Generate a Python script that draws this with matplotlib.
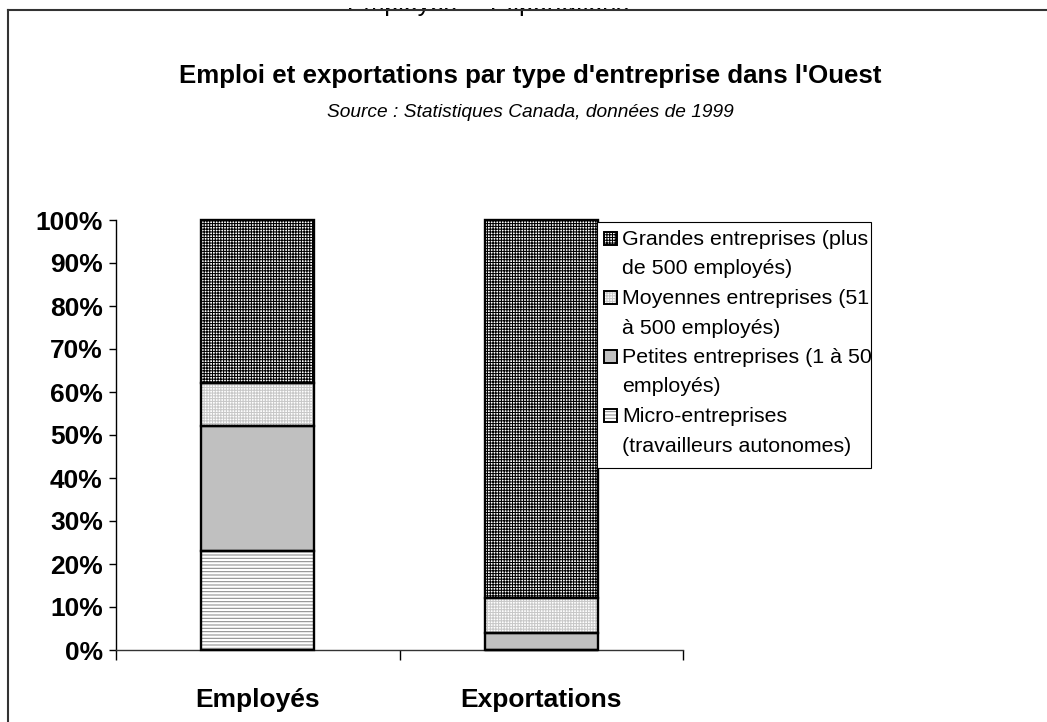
import numpy as np
import matplotlib
matplotlib.use("Agg")
import matplotlib.pyplot as plt
from matplotlib.patches import Rectangle
from matplotlib.lines import Line2D

# ---- data ----
categories = ["Employés", "Exportations"]
series_names = [
    "Micro-entreprises\n(travailleurs autonomes)",
    "Petites entreprises (1 à 50\nemployés)",
    "Moyennes entreprises (51\nà 500 employés)",
    "Grandes entreprises (plus\nde 500 employés)",
]
micro = [23, 0]
petites = [29, 4]
moyennes = [10, 8]
grandes = [38, 88]
series_values = [micro, petites, moyennes, grandes]
ytick_values = [0, 10, 20, 30, 40, 50, 60, 70, 80, 90, 100]
ytick_labels = ["0%", "10%", "20%", "30%", "40%", "50%", "60%", "70%", "80%", "90%", "100%"]
title = "Emploi et exportations par type d'entreprise dans l'Ouest"
subtitle = "Source : Statistiques Canada, données de 1999"

# styles: (face, hatch, hatch colour)
styles = [
    ("white", "-----", "#8a8a8a"),
    ("#c0c0c0", None, "#c0c0c0"),
    ("white", "++++++", "#c8c8c8"),
    ("white", "++++++", "#000000"),
]

FONT = ["Liberation Sans", "DejaVu Sans"]
plt.rcParams["font.family"] = FONT
plt.rcParams["hatch.linewidth"] = 0.75

W, H = 1047, 722
fig = plt.figure(figsize=(W / 100, H / 100), dpi=100)

def fx(px):
    return px / W

def fy(py):
    return 1 - py / H

ax = fig.add_axes([fx(116), fy(650), fx(683) - fx(116), fy(220) - fy(650)])

x = np.arange(len(categories))
bw = 0.40
bottom = np.zeros(len(categories))
for vals, (face, hatch, hc) in zip(series_values, styles):
    vals = np.array(vals, dtype=float)
    ax.bar(x, vals, bw, bottom=bottom, color=face, edgecolor=hc, hatch=hatch,
           linewidth=0, zorder=2)
    ax.bar(x, vals, bw, bottom=bottom, fill=False, edgecolor="black",
           linewidth=1.7, zorder=3, clip_on=False)
    bottom += vals

ax.set_xlim(-0.5, 1.5)
ax.set_ylim(0, 100)
for s in ["top", "right"]:
    ax.spines[s].set_visible(False)
ax.spines["left"].set_linewidth(1.0)
ax.spines["bottom"].set_linewidth(1.0)
ax.spines["bottom"].set_color("#333333")

ax.set_yticks(ytick_values)
ax.set_yticklabels(ytick_labels, fontsize=19, fontweight="bold")
ax.tick_params(axis="y", direction="out", length=5, width=1, pad=4.5)

ax.set_xticks([-0.5, 0.5, 1.5])
ax.set_xticklabels(["", "", ""])
ax.tick_params(axis="x", which="major", direction="out", length=7.5, width=1)
ax.set_xticks(x, minor=True)
ax.set_xticklabels(categories, minor=True, fontsize=19, fontweight="bold")
ax.tick_params(axis="x", which="minor", length=0, pad=27)

# title / subtitle
fig.text(fx(530), fy(83), title, ha="center", va="baseline", fontsize=18.6,
         fontweight="bold")
fig.text(fx(530), fy(117), subtitle, ha="center", va="baseline", fontsize=13.8,
         fontstyle="italic")

# partly hidden text at the top edge (as in the reference)
fig.text(fx(347), fy(10.5), "Employés", ha="left", va="baseline", fontsize=18)
fig.text(fx(490), fy(10.5), "Exportations", ha="left", va="baseline", fontsize=18)
fig.add_artist(Rectangle((0, fy(7.5)), 1, 1 - fy(7.5), facecolor="white",
                         edgecolor="none", zorder=20))

# outer frame (only top and left visible)
fig.add_artist(Line2D([fx(8), fx(1047)], [fy(10), fy(10)], color="#333333", lw=1.5, zorder=21))
fig.add_artist(Line2D([fx(8), fx(8)], [fy(10), fy(722)], color="#333333", lw=1.5, zorder=21))

# manual legend
lx0, ly0, lx1, ly1 = 597, 222, 871, 468
fig.add_artist(Rectangle((fx(lx0), fy(ly1)), fx(lx1) - fx(lx0), fy(ly0) - fy(ly1),
                         facecolor="white", edgecolor="black", lw=0.8, zorder=5))
line_pitch = 29.5
base0 = 245
order = [3, 2, 1, 0]
row = 0
for idx in order:
    face, hatch, hc = styles[idx]
    lines = series_names[idx].split("\n")
    b = base0 + row * line_pitch
    sq_top = b - 13
    fig.add_artist(Rectangle((fx(604), fy(sq_top + 13)), fx(13) - fx(0), fy(0) - fy(13),
                             facecolor=face, edgecolor=hc, hatch=hatch, lw=0, zorder=6))
    fig.add_artist(Rectangle((fx(604), fy(sq_top + 13)), fx(13) - fx(0), fy(0) - fy(13),
                             fill=False, edgecolor="black", lw=1.4, zorder=7))
    for k, ln in enumerate(lines):
        fig.text(fx(622), fy(b + k * line_pitch), ln, ha="left", va="baseline",
                 fontsize=15.4, zorder=7)
    row += len(lines)

fig.savefig("out.png", dpi=100)
